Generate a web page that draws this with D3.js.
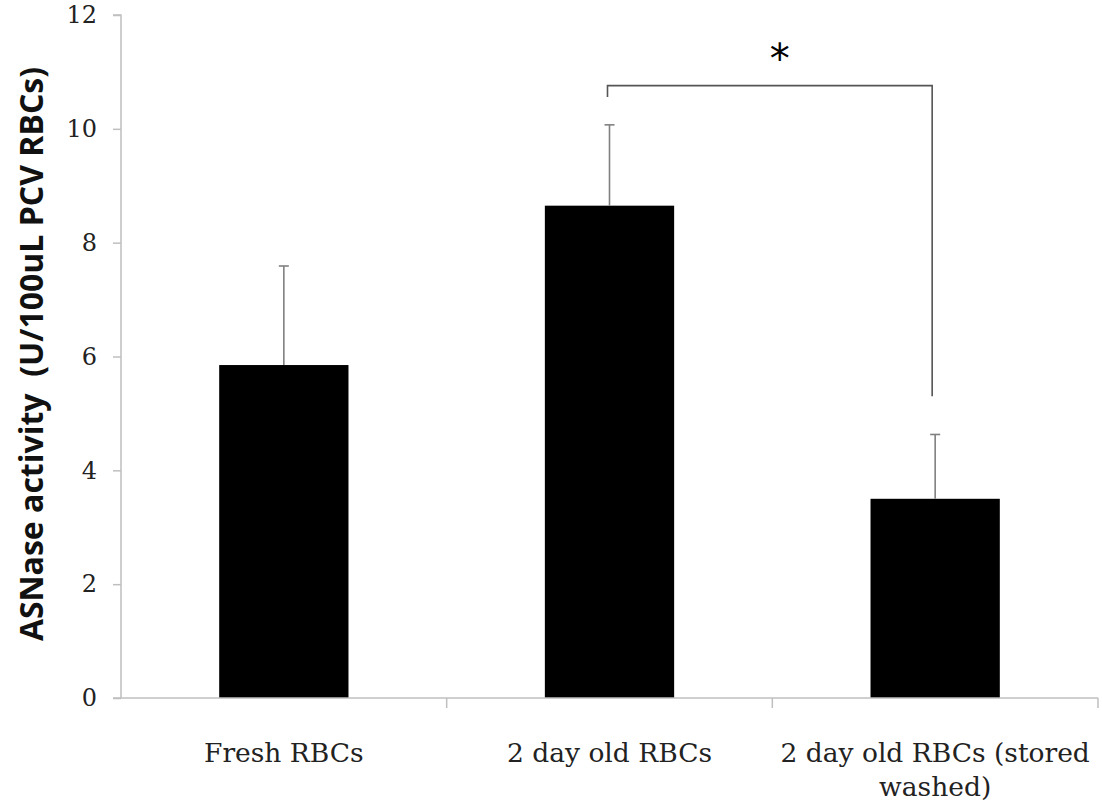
<!DOCTYPE html>
<html>
<head>
<meta charset="utf-8">
<script src="https://cdn.jsdelivr.net/npm/d3@7"></script>
<style>
  html, body { margin: 0; padding: 0; background: #fff; }
  svg { display: block; }
</style>
</head>
<body>
<svg id="chart" width="1102" height="812"></svg>
<script>
// Asparaginase activity per group (mean and upper SD)
const categories = ["Fresh RBCs", "2 day old RBCs", "2 day old RBCs (stored washed)"];
const categoryLines = [["Fresh RBCs"], ["2 day old RBCs"], ["2 day old RBCs (stored", "washed)"]];
const means = [5.85, 8.65, 3.50];
const errors = [1.74, 1.42, 1.13];
const yTicks = [0, 2, 4, 6, 8, 10, 12];
// significance bracket between group 2 and 3 (value units)
const bracketPair = [1, 2];
const bracketTop = 10.76;
const bracketEnds = [10.56, 5.30];
const yLabel = "ASNase activity  (U/100uL PCV RBCs)";

const svg = d3.select("#chart");
const margin = { left: 121, right: 4, top: 15, bottom: 114 };
const W = 1102, H = 812;

const x = d3.scaleBand()
  .domain(categories)
  .range([margin.left, W - margin.right])
  .padding(0);

const y = d3.scaleLinear()
  .domain([0, 12])
  .range([H - margin.bottom, margin.top]);

const barW = x.bandwidth() * 0.397;
const axisColor = "#bfbfbf";
const serif = "'DejaVu Serif', 'Liberation Serif', serif";

// bars
svg.append("g").selectAll("rect")
  .data(categories)
  .enter().append("rect")
  .attr("x", (d) => x(d) + x.bandwidth() / 2 - barW / 2)
  .attr("y", (d, i) => y(means[i]))
  .attr("width", barW)
  .attr("height", (d, i) => y(0) - y(means[i]))
  .attr("fill", "#000");

// upper error bars
const eb = svg.append("g").attr("stroke", "#808080").attr("stroke-width", 1.6).attr("fill", "none");
categories.forEach((c, i) => {
  const cx = x(c) + x.bandwidth() / 2;
  eb.append("line").attr("x1", cx).attr("x2", cx).attr("y1", y(means[i])).attr("y2", y(means[i] + errors[i]));
  eb.append("line").attr("x1", cx - 5).attr("x2", cx + 5).attr("y1", y(means[i] + errors[i])).attr("y2", y(means[i] + errors[i]));
});

// y axis
const yAxis = d3.axisLeft(y).tickValues(yTicks).tickSize(8).tickPadding(16).tickFormat(d3.format("d"));
const gy = svg.append("g").attr("transform", `translate(${margin.left},0)`).call(yAxis);
gy.select(".domain").attr("stroke", axisColor).attr("stroke-width", 1.5).attr("d", `M-8,${y(12)}H0V${y(0)}`);
gy.selectAll(".tick line").attr("stroke", axisColor).attr("stroke-width", 1.5);
gy.selectAll(".tick text")
  .attr("fill", "#222")
  .style("font-family", serif)
  .style("font-size", "24px");

// x axis
const xAxis = d3.axisBottom(x).tickValues([]).tickSizeOuter(0);
const gx = svg.append("g").attr("transform", `translate(0,${y(0)})`).call(xAxis);
gx.select(".domain").attr("stroke", axisColor).attr("stroke-width", 1.5)
  .attr("d", `M${margin.left - 8},0H${W - margin.right}`);
const bounds = categories.slice(1).map((c) => x(c)).concat([W - margin.right]);
gx.selectAll("line.sep").data(bounds).enter().append("line")
  .attr("class", "sep")
  .attr("x1", (d) => d).attr("x2", (d) => d)
  .attr("y1", 0).attr("y2", 10)
  .attr("stroke", axisColor).attr("stroke-width", 1.5);

// category labels
categories.forEach((c, i) => {
  const t = svg.append("text")
    .attr("x", x(c) + x.bandwidth() / 2)
    .attr("y", 762)
    .attr("text-anchor", "middle")
    .attr("fill", "#222")
    .style("font-family", serif)
    .style("font-size", "26.5px");
  categoryLines[i].forEach((ln, k) => {
    t.append("tspan").attr("x", x(c) + x.bandwidth() / 2).attr("dy", k === 0 ? 0 : 34).text(ln);
  });
});

// y axis title
svg.append("text")
  .attr("transform", `translate(43,${(68 + 640) / 2}) rotate(-90)`)
  .attr("text-anchor", "middle")
  .attr("fill", "#111")
  .style("white-space", "pre")
  .style("font-family", "'Open Sans', 'Noto Sans', sans-serif")
  .style("font-weight", "bold")
  .style("font-size", "32px")
  .text(yLabel);

// significance bracket
const bx0 = x(categories[bracketPair[0]]) + x.bandwidth() / 2 - 2;
const bx1 = x(categories[bracketPair[1]]) + x.bandwidth() / 2 - 3;
svg.append("path")
  .attr("d", `M${bx0},${y(bracketEnds[0])}V${y(bracketTop)}H${bx1}V${y(bracketEnds[1])}`)
  .attr("fill", "none")
  .attr("stroke", "#555")
  .attr("stroke-width", 1.6);
svg.append("text")
  .attr("x", (bx0 + bx1) / 2 + 10)
  .attr("y", 73)
  .attr("text-anchor", "middle")
  .attr("fill", "#000")
  .style("font-family", "'DejaVu Sans', sans-serif")
  .style("font-size", "40px")
  .text("*");
</script>
</body>
</html>
